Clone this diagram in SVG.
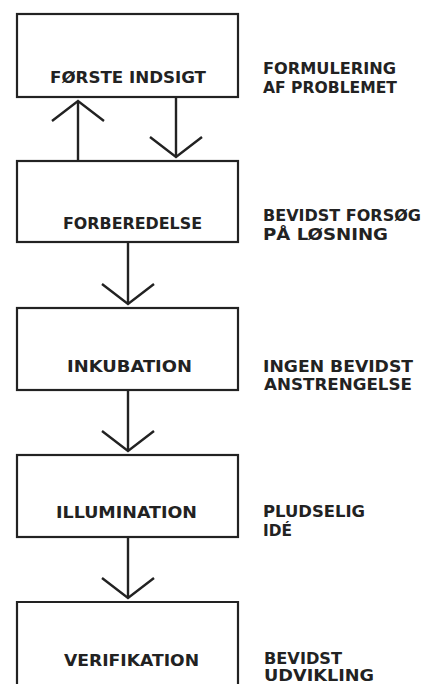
<svg xmlns="http://www.w3.org/2000/svg" width="442" height="684" viewBox="0 0 442 684">
<defs>
<style>
.box{fill:#fff;stroke:#222;stroke-width:2.2}
.lbl,.note{font-family:"DejaVu Sans","Open Sans",sans-serif;font-weight:bold;font-size:15.5px;fill:#222}
.conn{fill:none;stroke:#222;stroke-width:2.4}
</style>
<marker id="vhead" markerUnits="userSpaceOnUse" markerWidth="40" markerHeight="60" viewBox="-25 -30 30 60" refX="0" refY="0" orient="auto" overflow="visible">
<path d="M-20,-26 L0,0 L-20,26" fill="none" stroke="#222" stroke-width="2.4"/>
</marker>
</defs>
<rect width="442" height="684" fill="#fff"/>
<g id="connectors">
<path class="conn" d="M78,161 L78,101" marker-end="url(#vhead)"/>
<path class="conn" d="M176,97 L176,157" marker-end="url(#vhead)"/>
<path class="conn" d="M128,242 L128,304" marker-end="url(#vhead)"/>
<path class="conn" d="M128,390 L128,451" marker-end="url(#vhead)"/>
<path class="conn" d="M128,537 L128,598" marker-end="url(#vhead)"/>
</g>
<g id="n1">
<rect class="box" x="17" y="14" width="221" height="83"/>
<text class="lbl" x="50" y="83" textLength="156" lengthAdjust="spacingAndGlyphs">FØRSTE INDSIGT</text>
<text class="note" x="263" y="74" textLength="133" lengthAdjust="spacingAndGlyphs">FORMULERING</text>
<text class="note" x="263" y="93" textLength="134" lengthAdjust="spacingAndGlyphs">AF PROBLEMET</text>
</g>
<g id="n2">
<rect class="box" x="17" y="161" width="221" height="81"/>
<text class="lbl" x="63" y="229" textLength="139" lengthAdjust="spacingAndGlyphs">FORBEREDELSE</text>
<text class="note" x="263" y="221" textLength="158" lengthAdjust="spacingAndGlyphs">BEVIDST FORSØG</text>
<text class="note" x="263" y="240" textLength="125" lengthAdjust="spacingAndGlyphs">PÅ LØSNING</text>
</g>
<g id="n3">
<rect class="box" x="17" y="308" width="221" height="82"/>
<text class="lbl" x="67" y="372" textLength="125" lengthAdjust="spacingAndGlyphs">INKUBATION</text>
<text class="note" x="263" y="372" textLength="150" lengthAdjust="spacingAndGlyphs">INGEN BEVIDST</text>
<text class="note" x="264" y="390" textLength="148" lengthAdjust="spacingAndGlyphs">ANSTRENGELSE</text>
</g>
<g id="n4">
<rect class="box" x="17" y="455" width="221" height="82"/>
<text class="lbl" x="56" y="518" textLength="141" lengthAdjust="spacingAndGlyphs">ILLUMINATION</text>
<text class="note" x="263" y="517" textLength="102" lengthAdjust="spacingAndGlyphs">PLUDSELIG</text>
<text class="note" x="263" y="536" textLength="29" lengthAdjust="spacingAndGlyphs">IDÉ</text>
</g>
<g id="n5">
<path class="box" d="M17,690 L17,602 L238,602 L238,690"/>
<text class="lbl" x="64" y="666" textLength="135" lengthAdjust="spacingAndGlyphs">VERIFIKATION</text>
<text class="note" x="264" y="664" textLength="78" lengthAdjust="spacingAndGlyphs">BEVIDST</text>
<text class="note" x="264" y="681" textLength="110" lengthAdjust="spacingAndGlyphs">UDVIKLING</text>
</g>
</svg>
